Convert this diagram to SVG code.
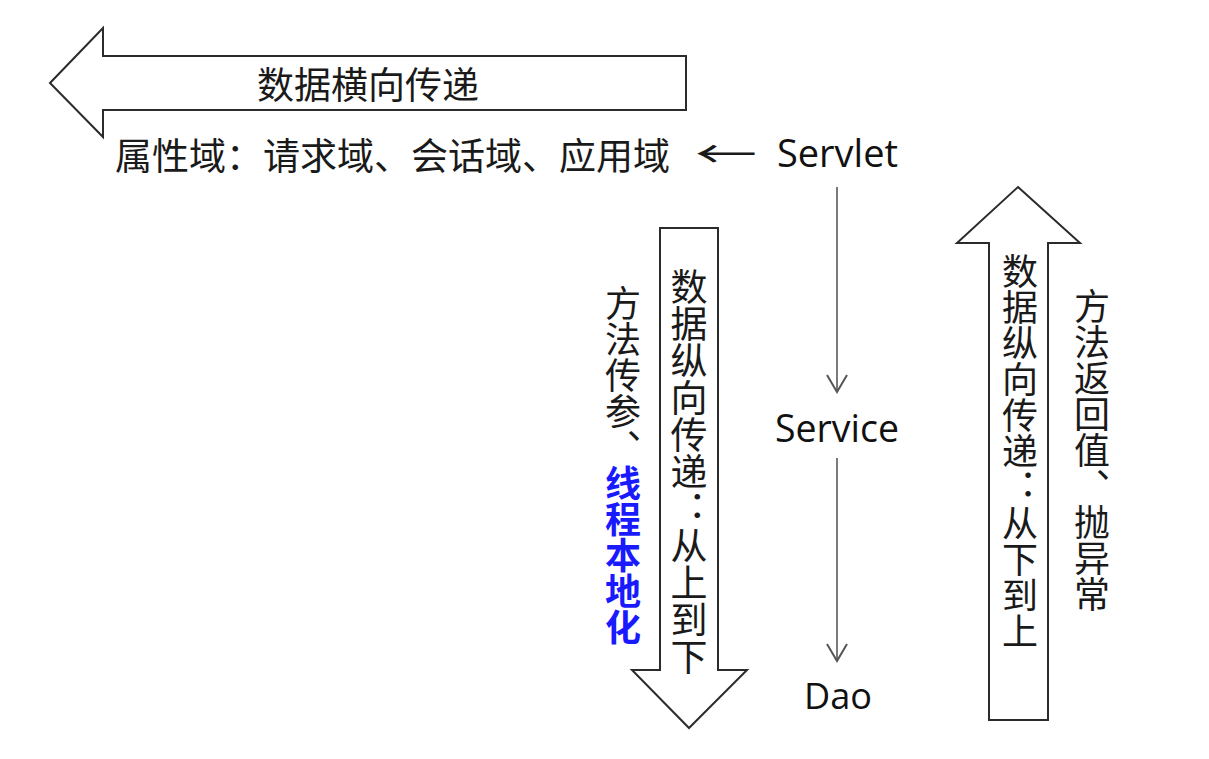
<svg xmlns="http://www.w3.org/2000/svg" width="1209" height="759" viewBox="0 0 1209 759">
<style>
.blk{fill:#ffffff;stroke:#2b2b2b;stroke-width:2;stroke-linejoin:miter}
.cjk{font-family:"Noto Sans CJK SC","Noto Sans",sans-serif;fill:#1a1a1a}
.lat{font-family:"Open Sans","Liberation Sans",sans-serif;fill:#111}
.vert{writing-mode:vertical-rl;text-orientation:upright}
.conn{stroke:#7a7a7a;stroke-width:2;fill:none}
.head{stroke:#555;stroke-width:2;fill:none}
.blue{fill:#1a1aff;font-weight:bold}
</style>
<rect width="1209" height="759" fill="#ffffff"/>

<g id="horizontal-arrow">
<polygon class="blk" points="50,83 103,28 103,56 686,56 686,110 103,110 103,137"/>
<text class="cjk" x="257" y="99" font-size="37">数据横向传递</text>
</g>

<g id="attribute-scopes">
<text class="cjk" x="115" y="170" font-size="37">属性域：请求域、会话域、应用域</text>
<text class="cjk" x="695" y="168" font-size="37" textLength="62" lengthAdjust="spacingAndGlyphs">←</text>
</g>

<g id="servlet">
<text class="lat" x="777" y="167" font-size="38" textLength="121" lengthAdjust="spacingAndGlyphs">Servlet</text>
</g>
<g id="service">
<text class="lat" x="775" y="442" font-size="39" textLength="124" lengthAdjust="spacingAndGlyphs">Service</text>
</g>
<g id="dao">
<text class="lat" x="804" y="709" font-size="37" textLength="68" lengthAdjust="spacingAndGlyphs">Dao</text>
</g>

<g id="connectors">
<line class="conn" x1="837" y1="187" x2="837" y2="392"/>
<polyline class="head" points="827,375 837,392 847,375"/>
<line class="conn" x1="837" y1="458" x2="837" y2="661"/>
<polyline class="head" points="827,644 837,661 847,644"/>
</g>

<g id="down-arrow">
<polygon class="blk" points="660,228 718,228 718,670 747,670 689,728 632,670 660,670"/>
<text class="cjk vert" x="689" y="268" font-size="37">数据纵向传递：从上到下</text>
</g>
<g id="down-label">
<text class="cjk vert" x="623" y="285" font-size="36">方法传参、<tspan class="blue">线程本地化</tspan></text>
</g>

<g id="up-arrow">
<polygon class="blk" points="1018,187 1080,243 1048,243 1048,720 989,720 989,243 957,243"/>
<text class="cjk vert" x="1020" y="253" font-size="36">数据纵向传递：从下到上</text>
</g>
<g id="up-label">
<text class="cjk vert" x="1092" y="288" font-size="36">方法返回值、抛异常</text>
</g>
</svg>
